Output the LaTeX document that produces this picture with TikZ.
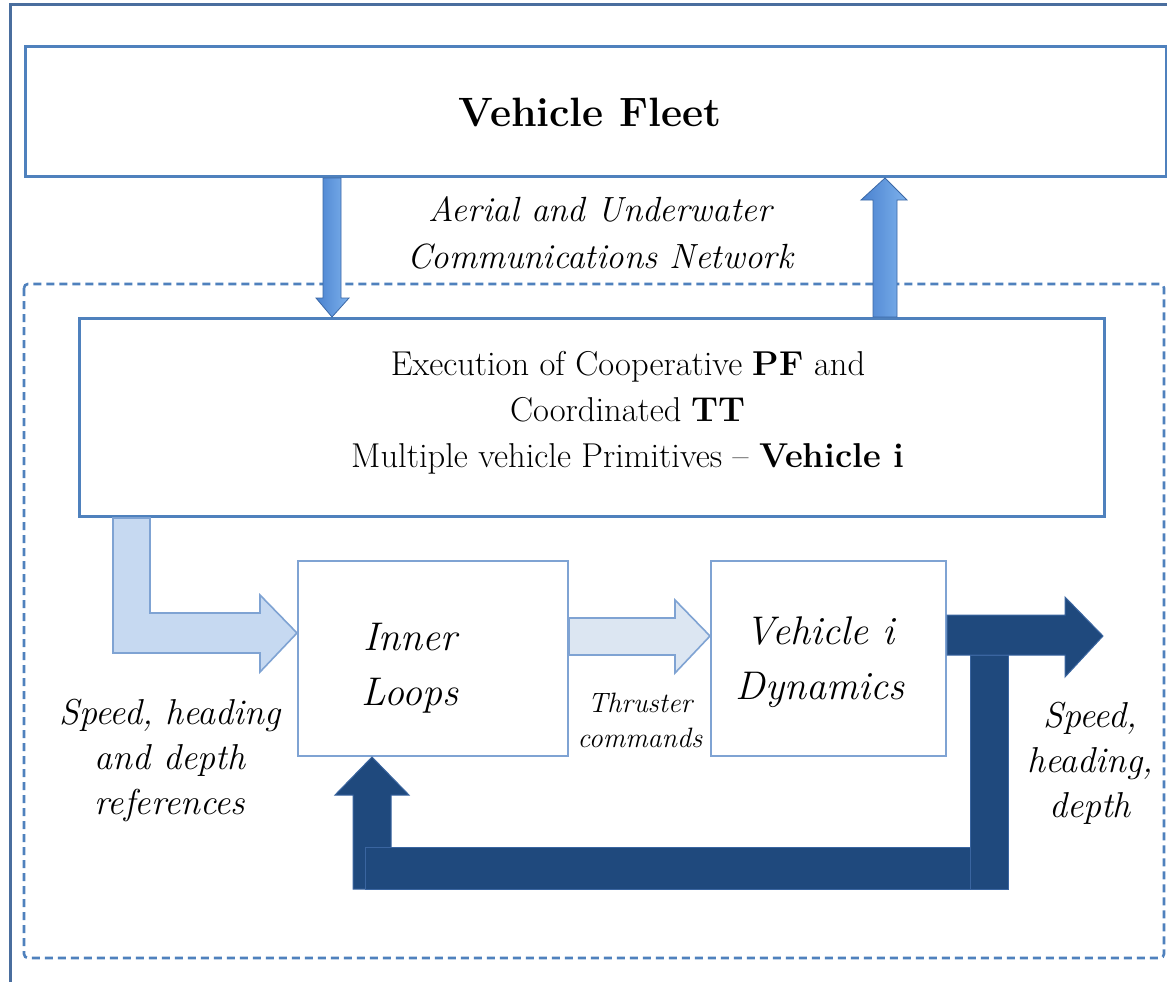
\documentclass[tikz,border=0pt]{standalone}
\usepackage{fontspec}
\usetikzlibrary{calc}
\definecolor{frameblue}{HTML}{4A6E9E}
\definecolor{boxblue}{HTML}{4F81BD}
\definecolor{thinblue}{HTML}{7FA3D3}
\definecolor{commL}{HTML}{4A82CF}
\definecolor{commR}{HTML}{7DB1EC}
\definecolor{refblue}{HTML}{C6D9F1}
\definecolor{cmdblue}{HTML}{DCE6F2}
\definecolor{darkblue}{HTML}{1F497D}
\definecolor{darkedge}{HTML}{3A65A0}
\tikzset{
  bigbox/.style={draw=boxblue, line width=3pt, fill=white, inner sep=0pt},
  smallbox/.style={draw=thinblue, line width=2pt, fill=white, inner sep=0pt},
  commarrow/.style={draw=commL!80!black, line width=0.8pt, left color=commL, right color=commR},
  lightarrow/.style={draw=thinblue, line width=1.6pt},
  darkarrow/.style={fill=darkblue, draw=darkedge, line width=1pt},
  lbl/.style={align=center, inner sep=0pt, font=\itshape},
}
\begin{document}
\begin{tikzpicture}[x=1pt,y=-1pt]
\useasboundingbox (0,0) rectangle (1167,982);
\fill[white] (0,0) rectangle (1167,982);

% outer frame (right and lower sides lie beyond the page)
\draw[frameblue, line width=3pt] (10,1000) -- (10,5) -- (1180,5);

% vehicle fleet box
\node[bigbox, minimum width=1141pt, minimum height=130pt, anchor=north west] (fleet) at (24,45) {};
\node[font=\bfseries\fontsize{41}{44}\selectfont] (fleettext) at (590,112) {Vehicle Fleet};

% dashed vehicle region
\draw[boxblue, line width=2.6pt, dash pattern=on 8pt off 5pt, rounded corners=4pt] (24,284) rectangle (1164,958);

% execution box
\node[bigbox, minimum width=1025pt, minimum height=198pt, anchor=north west] (exec) at (78,317) {};
\node[align=center, inner sep=0pt, font=\fontsize{34.5}{46}\selectfont] (exectext) at (628,413)
  {Execution of Cooperative \textbf{PF} and\\ Coordinated \textbf{TT}\\ Multiple vehicle Primitives -- \textbf{Vehicle i}};

% communications network arrows
\draw[commarrow] (fleet.south -| 323,0) -- (323,298) -- (316,298) -- (exec.north -| 332,0)
  -- (349,298) -- (341,298) -- (fleet.south -| 341,0) -- cycle;
\draw[commarrow] (exec.north -| 873,0) -- (873,200) -- (861,200) -- (fleet.south -| 885,0)
  -- (907,200) -- (897,200) -- (exec.north -| 897,0) -- cycle;
\node[lbl, font=\itshape\fontsize{35}{47}\selectfont] (commtext) at (600,233)
  {Aerial and Underwater\\ Communications Network};

% inner loop blocks
\node[smallbox, minimum width=270pt, minimum height=195pt, anchor=north west] (inner) at (297,560) {};
\node[lbl, font=\itshape\fontsize{40}{55}\selectfont] (innertext) at (410,668) {Inner\\ Loops};
\node[smallbox, minimum width=235pt, minimum height=195pt, anchor=north west] (dyn) at (710,560) {};
\node[lbl, font=\itshape\fontsize{40}{55}\selectfont] (dyntext) at (820,662) {Vehicle i\\ Dynamics};

% references arrow
\draw[lightarrow, fill=refblue] (exec.south -| 113,0) -- (exec.south -| 150,0) -- (150,613) -- (260,613)
  -- (260,595) -- (inner.west |- 0,633) -- (260,672) -- (260,653) -- (113,653) -- cycle;
\node[lbl, font=\itshape\fontsize{36}{45}\selectfont] (reftext) at (170,760)
  {Speed, heading\\ and depth\\ references};

% thruster command arrow
\draw[lightarrow, fill=cmdblue] (inner.east |- 0,618) -- (675,618) -- (675,600) -- (dyn.west |- 0,636)
  -- (675,673) -- (675,655) -- (inner.east |- 0,655) -- cycle;
\node[lbl, font=\itshape\fontsize{28}{35}\selectfont] (cmdtext) at (640,720) {Thruster\\ commands};

% output and feedback path
\coordinate (outtip) at (1103,636);
\draw[darkarrow] (dyn.east |- 0,615) -- (1065,615) -- (1065,597) -- (outtip)
  -- (1065,677) -- (1065,655) -- (dyn.east |- 0,655) -- cycle;
\draw[darkarrow] (353,889) -- (353,795) -- (335,795) -- (inner.south -| 372,0)
  -- (409,795) -- (391,795) -- (391,889) -- cycle;
\draw[darkarrow] (365,847) rectangle (975,889);
\draw[darkarrow] (970,655) rectangle (1008,889);
\node[lbl, font=\itshape\fontsize{36}{45}\selectfont] (outtext) at (1090,763)
  {Speed,\\ heading,\\ depth};
\end{tikzpicture}
\end{document}
